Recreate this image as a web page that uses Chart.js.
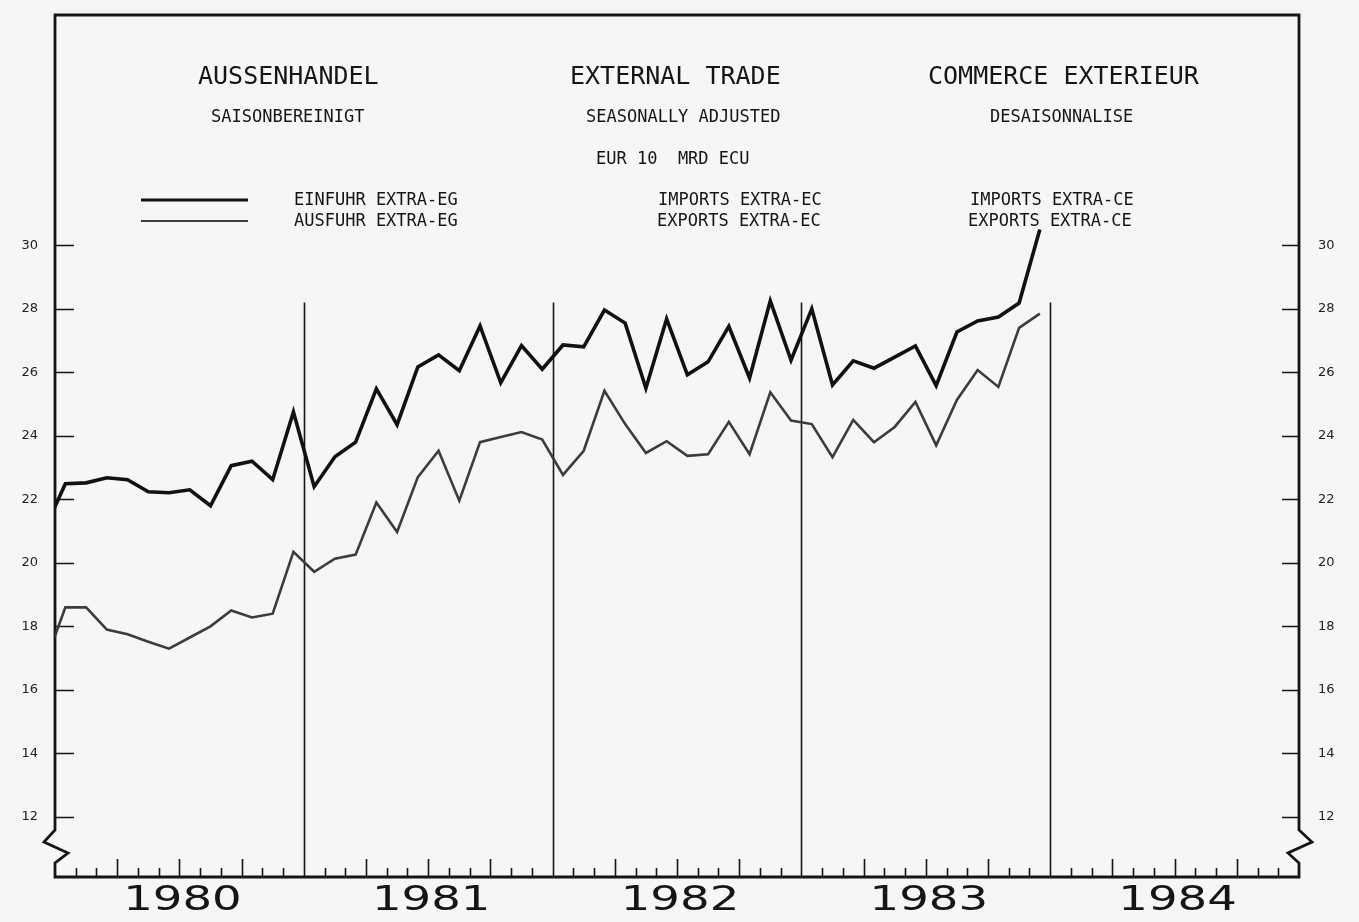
<!DOCTYPE html>
<html>
<head>
<meta charset="utf-8">
<script src="https://cdn.jsdelivr.net/npm/chart.js@4.4.0/dist/chart.umd.min.js"></script>
<style>
  body { margin: 0; background: #f6f6f6; }
  canvas { display: block; }
</style>
</head>
<body>
<canvas id="tradeChart" width="1359" height="922"></canvas>
<script>
// year labels along the bottom, y tick values
var years = ['1980', '1981', '1982', '1983', '1984'];
var yTicks = [12, 14, 16, 18, 20, 22, 24, 26, 28, 30];

// monthly values, Dec 1979 .. Dec 1983 (first one runs off the left edge)
var imports = [
  21.05,
  22.49, 22.52, 22.68, 22.62, 22.24, 22.21, 22.30, 21.80, 23.06, 23.20, 22.62, 24.75,
  22.40, 23.34, 23.80, 25.48, 24.35, 26.17, 26.55, 26.05, 27.46, 25.67, 26.84, 26.10,
  26.86, 26.80, 27.96, 27.55, 25.50, 27.68, 25.92, 26.33, 27.45, 25.82, 28.25, 26.38,
  28.00, 25.60, 26.36, 26.13, 26.48, 26.83, 25.58, 27.27, 27.62, 27.74, 28.18, 30.50
];
var exportsExtra = [
  16.80,
  18.60, 18.60, 17.90, 17.75, 17.52, 17.30, 17.65, 18.00, 18.50, 18.28, 18.40, 20.35,
  19.72, 20.13, 20.26, 21.90, 20.97, 22.70, 23.53, 21.96, 23.80, 23.96, 24.12, 23.88,
  22.77, 23.53, 25.42, 24.37, 23.46, 23.83, 23.37, 23.42, 24.44, 23.42, 25.37, 24.48,
  24.37, 23.33, 24.50, 23.80, 24.28, 25.07, 23.70, 25.13, 26.07, 25.54, 27.40, 27.85
];

// point i sits in the middle of its month, month 0 = Jan 1980
function toPoints(values) {
  return values.map(function (v, i) { return { x: i - 0.5, y: v }; });
}

var ink = '#151515';
var mono = '"DejaVu Sans Mono", "Liberation Mono", monospace';

var paperPlugin = {
  id: 'paper',
  beforeDraw: function (chart) {
    var ctx = chart.ctx;
    ctx.save();
    ctx.fillStyle = '#f6f6f6';
    ctx.fillRect(0, 0, chart.width, chart.height);
    ctx.restore();
  },
  beforeDatasetsDraw: function (chart) {
    var ctx = chart.ctx;
    var a = chart.chartArea;
    var x = chart.scales.x;
    var y = chart.scales.y;
    ctx.save();
    ctx.strokeStyle = ink;
    ctx.lineCap = 'butt';

    // year separators
    ctx.lineWidth = 1.6;
    for (var k = 1; k < years.length; k++) {
      var px = Math.round(x.getPixelForValue(k * 12)) + 0.5;
      ctx.beginPath();
      ctx.moveTo(px, y.getPixelForValue(28.2));
      ctx.lineTo(px, a.bottom);
      ctx.stroke();
    }

    // month ticks, longer each quarter
    for (var m = 1; m < years.length * 12; m++) {
      if (m % 12 === 0) continue;
      var tx = Math.round(x.getPixelForValue(m)) + 0.5;
      var len = (m % 3 === 0) ? 18 : 9;
      ctx.beginPath();
      ctx.moveTo(tx, a.bottom);
      ctx.lineTo(tx, a.bottom - len);
      ctx.stroke();
    }

    // value ticks on both sides
    yTicks.forEach(function (v) {
      var ty = Math.round(y.getPixelForValue(v)) + 0.5;
      ctx.beginPath();
      ctx.moveTo(a.left, ty);
      ctx.lineTo(a.left + 19, ty);
      ctx.moveTo(a.right, ty);
      ctx.lineTo(a.right - 17, ty);
      ctx.stroke();
    });

    // frame with the broken-axis zigzags
    ctx.lineWidth = 2.8;
    ctx.lineJoin = 'miter';
    ctx.beginPath();
    ctx.moveTo(a.left, a.bottom);
    ctx.lineTo(a.left, 863);
    ctx.lineTo(a.left + 13, 853);
    ctx.lineTo(a.left - 11, 842);
    ctx.lineTo(a.left, 830);
    ctx.lineTo(a.left, a.top);
    ctx.lineTo(a.right, a.top);
    ctx.lineTo(a.right, 830);
    ctx.lineTo(a.right + 13, 842);
    ctx.lineTo(a.right - 11, 853);
    ctx.lineTo(a.right, 863);
    ctx.lineTo(a.right, a.bottom);
    ctx.closePath();
    ctx.stroke();

    ctx.restore();
  },
  afterDraw: function (chart) {
    var ctx = chart.ctx;
    var x = chart.scales.x;
    var ds = chart.data.datasets;
    ctx.save();
    ctx.fillStyle = ink;
    ctx.textBaseline = 'middle';
    ctx.textAlign = 'left';

    // headings in three languages
    ctx.font = '25px ' + mono;
    ctx.fillText('AUSSENHANDEL', 198, 77);
    ctx.fillText('EXTERNAL TRADE', 570, 77);
    ctx.fillText('COMMERCE EXTERIEUR', 928, 77);

    ctx.font = '17px ' + mono;
    ctx.fillText('SAISONBEREINIGT', 211, 118);
    ctx.fillText('SEASONALLY ADJUSTED', 586, 118);
    ctx.fillText('DESAISONNALISE', 990, 118);
    ctx.fillText('EUR 10  MRD ECU', 596, 160);

    ctx.fillText('EINFUHR EXTRA-EG', 294, 201);
    ctx.fillText('AUSFUHR EXTRA-EG', 294, 222);
    ctx.fillText('IMPORTS EXTRA-EC', 658, 201);
    ctx.fillText('EXPORTS EXTRA-EC', 657, 222);
    ctx.fillText('IMPORTS EXTRA-CE', 970, 201);
    ctx.fillText('EXPORTS EXTRA-CE', 968, 222);

    // legend strokes use the dataset styles
    [[200, ds[0]], [221, ds[1]]].forEach(function (row) {
      ctx.strokeStyle = row[1].borderColor;
      ctx.lineWidth = row[1].borderWidth - 0.5;
      ctx.beginPath();
      ctx.moveTo(141, row[0]);
      ctx.lineTo(248, row[0]);
      ctx.stroke();
    });

    // wide year labels under the axis
    ctx.font = '34px "DejaVu Sans", sans-serif';
    ctx.textAlign = 'center';
    years.forEach(function (yr, k) {
      var cx = x.getPixelForValue(k * 12 + 6) + 3;
      ctx.save();
      ctx.translate(cx, 901);
      ctx.scale(1.37, 1);
      ctx.fillText(yr, 0, 0);
      ctx.restore();
    });

    ctx.restore();
  }
};

var yAxisBase = {
  type: 'linear',
  min: 10.11,
  max: 37.25,
  grid: { display: false, drawTicks: false },
  border: { display: false },
  afterBuildTicks: function (scale) {
    scale.ticks = yTicks.map(function (v) { return { value: v }; });
  }
};

function fixWidth(w) {
  return function (scale) {
    scale.width = w;
    scale.paddingTop = 0;
    scale.paddingBottom = 0;
  };
}

var ctx = document.getElementById('tradeChart').getContext('2d');
var tradeChart = new Chart(ctx, {
  type: 'line',
  data: {
    datasets: [
      {
        label: 'EINFUHR EXTRA-EG',
        data: toPoints(imports),
        borderColor: '#111111',
        borderWidth: 3.6,
        pointRadius: 0,
        tension: 0,
        clip: 0
      },
      {
        label: 'AUSFUHR EXTRA-EG',
        data: toPoints(exportsExtra),
        borderColor: '#3c3c3c',
        borderWidth: 2.6,
        pointRadius: 0,
        tension: 0,
        clip: 0
      }
    ]
  },
  options: {
    responsive: false,
    animation: false,
    layout: { padding: { top: 15, bottom: 45, left: 0, right: 0 } },
    plugins: {
      legend: { display: false },
      tooltip: { enabled: false }
    },
    scales: {
      x: { type: 'linear', min: 0, max: 60, display: false },
      y: Object.assign({}, yAxisBase, {
        position: 'left',
        ticks: { padding: 17, color: '#222', font: { family: 'DejaVu Sans', size: 13 } },
        afterFit: fixWidth(55)
      }),
      y2: Object.assign({}, yAxisBase, {
        position: 'right',
        ticks: { padding: 19, color: '#222', font: { family: 'DejaVu Sans', size: 13 } },
        afterFit: fixWidth(60)
      })
    }
  },
  plugins: [paperPlugin]
});
</script>
</body>
</html>
